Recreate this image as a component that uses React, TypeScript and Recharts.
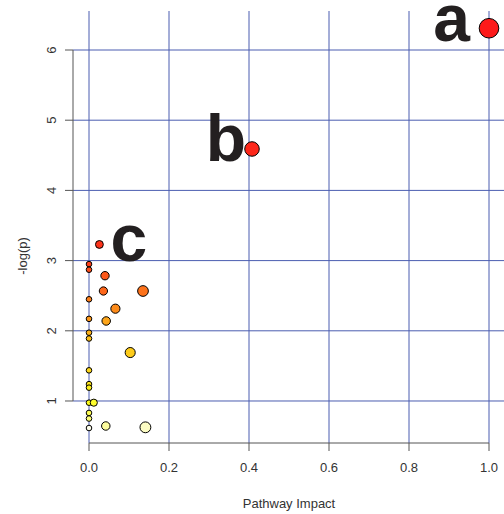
import { ScatterChart, Scatter, XAxis, YAxis, CartesianGrid, ReferenceLine, ReferenceDot, Label } from 'recharts';

// pathway impact (x) and -log(p) (y), one entry per pathway
const impact = [1.0, 0.4075, 0.026, 0, 0, 0.04, 0.036, 0.135, 0, 0.066, 0, 0.043, 0, 0, 0.103, 0, 0, 0, 0, 0.012, 0, 0, 0.042, 0.141, 0];
const negLogP = [6.31, 4.59, 3.23, 2.95, 2.87, 2.785, 2.567, 2.567, 2.449, 2.315, 2.17, 2.14, 1.973, 1.89, 1.69, 1.437, 1.24, 1.19, 0.976, 0.976, 0.83, 0.75, 0.644, 0.625, 0.615];

const xTicks = [0, 0.2, 0.4, 0.6, 0.8, 1.0];
const yTicks = [1, 2, 3, 4, 5, 6];

const X_DOMAIN: [number, number] = [-0.04, 1.0375];
const Y_DOMAIN: [number, number] = [0.4017, 6.5556];

const FONT = '"Liberation Sans", Arial, sans-serif';
const AXIS_COLOR = '#555';
const GRID_COLOR = '#4a5db0';

// R style heat.colors(n)
function hsv(h: number, s: number, v: number) {
  const i = Math.floor(h * 6);
  const f = h * 6 - i;
  const p = v * (1 - s), q = v * (1 - f * s), t = v * (1 - (1 - f) * s);
  const m = [[v, t, p], [q, v, p], [p, v, t], [p, q, v], [t, p, v], [v, p, q]][i % 6];
  // slightly muted, like the reference print
  return `rgb(${m.map(c => Math.round(26 + c * 255 * 0.89)).join(',')})`;
}

function heatColors(n: number) {
  const j = Math.floor(n / 4);
  const i = n - j;
  const out: string[] = [];
  for (let k = 0; k < i; k++) out.push(hsv((1 / 6) * (k / (i - 1)), 1, 1));
  for (let k = 0; k < j; k++) {
    const s0 = 1 - 1 / (2 * j), s1 = 1 / (2 * j);
    out.push(hsv(1 / 6, j === 1 ? s0 : s0 + (k * (s1 - s0)) / (j - 1), 1));
  }
  return out;
}

const order = negLogP.map((v, i) => ({ v, i })).sort((a, b) => b.v - a.v);
const palette = heatColors(negLogP.length);
const colorOf: string[] = [];
order.forEach((o, rank) => { colorOf[o.i] = palette[rank]; });

const data = impact.map((x, i) => ({ x, y: negLogP[i], color: colorOf[i] }));

const radius = (x: number) => 2.8 + 7 * Math.sqrt(x);

const Bubble = (props: any) => {
  const { cx, cy, payload } = props;
  return <circle cx={cx} cy={cy} r={radius(payload.x)} fill={payload.color} stroke="#000" strokeWidth={1} />;
};

const letter = (ch: string, dx: number, dy: number, anchor: 'start' | 'end') => (p: any) => (
  <text x={p.cx + dx} y={p.cy + dy} textAnchor={anchor} fontFamily={FONT} fontWeight={700} fontSize={66} fill="#231f20">{ch}</text>
);

const YTick = (props: any) => {
  const { y, payload } = props;
  return (
    <text x={52} y={y} transform={`rotate(-90 52 ${y})`} textAnchor="middle" dominantBaseline="central" fontFamily={FONT} fontSize={13} fill="#333">
      {payload.value}
    </text>
  );
};

// grid only at the tick values (no frame lines), mapped with the plot offset
const vGrid = ({ offset }: any) => {
  const [d0, d1] = X_DOMAIN;
  return xTicks.map(t => offset.left + ((t - d0) / (d1 - d0)) * offset.width);
};
const hGrid = ({ offset }: any) => {
  const [d0, d1] = Y_DOMAIN;
  return yTicks.map(t => offset.top + offset.height - ((t - d0) / (d1 - d0)) * offset.height);
};

export default function App() {
  return (
    <div style={{ width: 504, height: 514 }}>
      <style>{`body { margin: 0; }`}</style>
      <ScatterChart width={504} height={514} margin={{ top: 11, right: 0, bottom: 0, left: 0 }}>
        <CartesianGrid
          stroke={GRID_COLOR}
          strokeWidth={1}
          verticalCoordinatesGenerator={vGrid}
          horizontalCoordinatesGenerator={hGrid}
        />
        <XAxis
          type="number"
          dataKey="x"
          domain={X_DOMAIN}
          ticks={xTicks}
          interval={0}
          allowDataOverflow
          height={71}
          axisLine={false}
          tickLine={{ stroke: AXIS_COLOR }}
          tickSize={8}
          tickMargin={12}
          tickFormatter={(v: number) => v.toFixed(1)}
          tick={{ fill: '#333', fontSize: 13, fontFamily: FONT }}
        >
          <Label
            content={() => (
              <text x={289} y={503} textAnchor="middle" dominantBaseline="central" fontFamily={FONT} fontSize={13} fill="#333">
                Pathway Impact
              </text>
            )}
          />
        </XAxis>
        <YAxis
          type="number"
          dataKey="y"
          domain={Y_DOMAIN}
          ticks={yTicks}
          interval={0}
          allowDataOverflow
          width={73}
          axisLine={false}
          tickLine={{ stroke: AXIS_COLOR }}
          tickSize={8}
          tick={<YTick />}
        >
          <Label
            content={() => (
              <text x={22} y={256} transform="rotate(-90 22 256)" textAnchor="middle" dominantBaseline="central" fontFamily={FONT} fontSize={13} fill="#333">
                -log(p)
              </text>
            )}
          />
        </YAxis>
        <ReferenceLine segment={[{ x: 0, y: Y_DOMAIN[0] }, { x: 1, y: Y_DOMAIN[0] }]} stroke={AXIS_COLOR} ifOverflow="visible" />
        <ReferenceLine segment={[{ x: X_DOMAIN[0], y: 1 }, { x: X_DOMAIN[0], y: 6 }]} stroke={AXIS_COLOR} ifOverflow="visible" />
        <Scatter data={data} shape={<Bubble />} isAnimationActive={false} />
        <ReferenceDot x={impact[0]} y={negLogP[0]} r={0} ifOverflow="visible" shape={letter('a', -19, 13, 'end')} />
        <ReferenceDot x={impact[1]} y={negLogP[1]} r={0} ifOverflow="visible" shape={letter('b', -6, 12, 'end')} />
        <ReferenceDot x={impact[2]} y={negLogP[2]} r={0} ifOverflow="visible" shape={letter('c', 11, 17, 'start')} />
      </ScatterChart>
    </div>
  );
}
